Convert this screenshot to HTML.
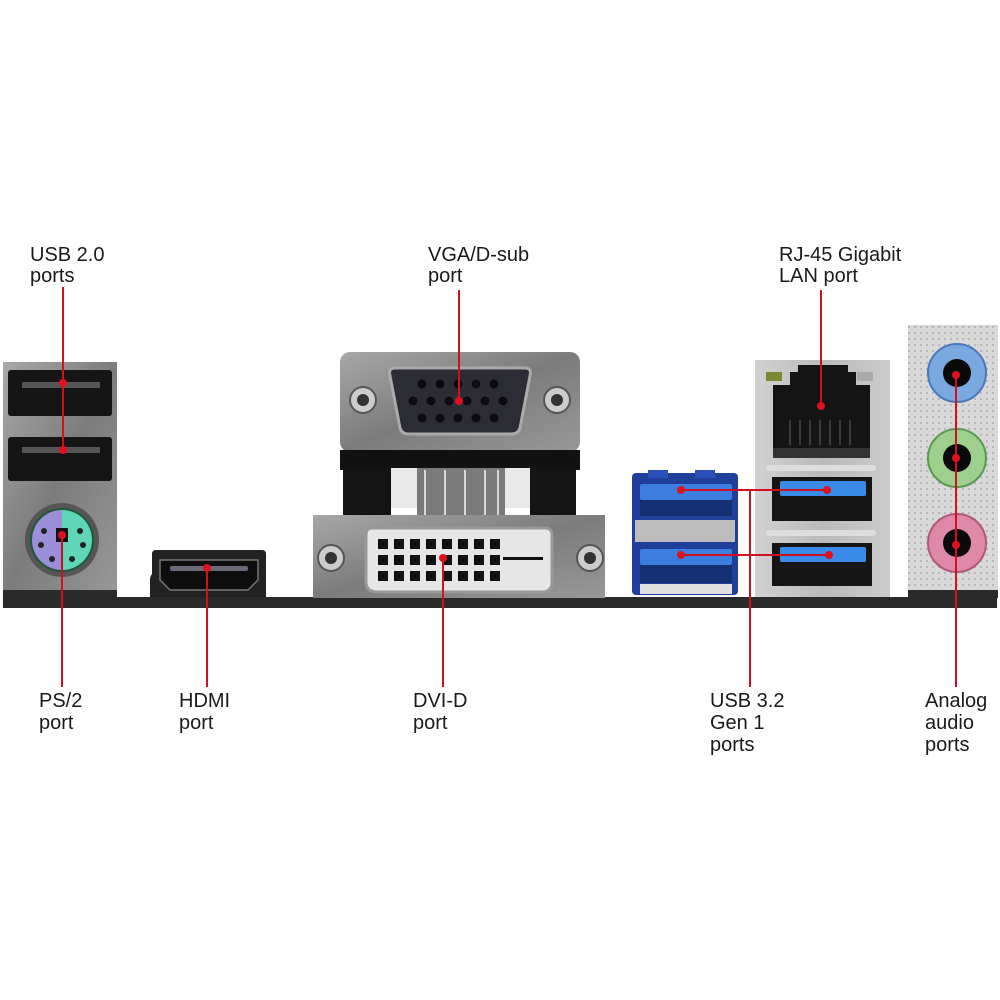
<!DOCTYPE html>
<html><head><meta charset="utf-8"><style>
html,body{margin:0;padding:0;background:#fff;}
svg{display:block;}
text{font-family:"Liberation Sans",Arial,sans-serif;font-size:20px;fill:#1a1a1a;}
</style></head><body>
<svg width="1000" height="1000" viewBox="0 0 1000 1000" xmlns="http://www.w3.org/2000/svg">
<defs>
<linearGradient id="met" x1="0" y1="0" x2="1" y2="1">
<stop offset="0" stop-color="#a8a8a8"/><stop offset="0.5" stop-color="#7c7c7c"/><stop offset="1" stop-color="#989898"/>
</linearGradient>
<linearGradient id="sil" x1="0" y1="0" x2="1" y2="0">
<stop offset="0" stop-color="#d2d2d2"/><stop offset="0.5" stop-color="#bababa"/><stop offset="1" stop-color="#cbcbcb"/>
</linearGradient>
<pattern id="dots" width="6" height="6" patternUnits="userSpaceOnUse">
<rect width="6" height="6" fill="#d8d8d8"/><circle cx="3" cy="3" r="1" fill="#acacac"/>
</pattern>
</defs>

<rect x="3" y="597" width="994" height="11" fill="#2a2a2a"/>

<rect x="3" y="362" width="114" height="236" fill="url(#met)"/>
<rect x="8" y="370" width="104" height="46" rx="3" fill="#151515"/>
<rect x="22" y="382" width="78" height="6" fill="#555"/>
<rect x="8" y="437" width="104" height="44" rx="3" fill="#151515"/>
<rect x="22" y="447" width="78" height="6" fill="#555"/>
<circle cx="62" cy="540" r="37" fill="#555"/>
<circle cx="62" cy="540" r="32" fill="#1e5a3a"/>
<path d="M62 510 A30 30 0 0 0 62 570 Z" fill="#9a8fd8"/>
<path d="M62 510 A30 30 0 0 1 62 570 Z" fill="#5fd6b8"/>
<rect x="56" y="528" width="12" height="14" fill="#111"/>
<circle cx="44" cy="531" r="3" fill="#222"/><circle cx="80" cy="531" r="3" fill="#222"/>
<circle cx="41" cy="545" r="3" fill="#222"/><circle cx="83" cy="545" r="3" fill="#222"/>
<circle cx="52" cy="559" r="3" fill="#222"/><circle cx="72" cy="559" r="3" fill="#222"/>
<rect x="3" y="590" width="114" height="8" fill="#2a2a2a"/>

<path d="M152 554 Q152 550 156 550 L262 550 Q266 550 266 554 L266 597 L150 597 L150 580 Q150 576 152 574 Z" fill="#222"/>
<path d="M160 560 L258 560 L258 580 L248 590 L170 590 L160 580 Z" fill="#0e0e0e" stroke="#777" stroke-width="1.5"/>
<rect x="170" y="566" width="78" height="5" rx="2" fill="#6a6a78"/>

<rect x="340" y="352" width="240" height="100" rx="10" fill="url(#met)"/>
<path d="M395 368 L525 368 Q532 368 530 376 L520 428 Q518 434 512 434 L408 434 Q402 434 400 428 L390 376 Q388 368 395 368 Z" fill="#2c2c34" stroke="#aaa" stroke-width="3"/>
<g fill="#0c0c10">
<circle cx="422" cy="384" r="4.5"/><circle cx="440" cy="384" r="4.5"/><circle cx="458" cy="384" r="4.5"/><circle cx="476" cy="384" r="4.5"/><circle cx="494" cy="384" r="4.5"/>
<circle cx="431" cy="401" r="4.5"/><circle cx="449" cy="401" r="4.5"/><circle cx="467" cy="401" r="4.5"/><circle cx="485" cy="401" r="4.5"/><circle cx="503" cy="401" r="4.5"/><circle cx="413" cy="401" r="4.5"/>
<circle cx="422" cy="418" r="4.5"/><circle cx="440" cy="418" r="4.5"/><circle cx="458" cy="418" r="4.5"/><circle cx="476" cy="418" r="4.5"/><circle cx="494" cy="418" r="4.5"/>
</g>
<circle cx="363" cy="400" r="13" fill="#ccc" stroke="#555" stroke-width="2"/><circle cx="363" cy="400" r="6" fill="#333"/>
<circle cx="557" cy="400" r="13" fill="#ccc" stroke="#555" stroke-width="2"/><circle cx="557" cy="400" r="6" fill="#333"/>
<rect x="340" y="450" width="240" height="20" fill="#111"/>
<rect x="343" y="468" width="48" height="50" fill="#141414"/>
<rect x="530" y="468" width="46" height="50" fill="#141414"/>
<rect x="391" y="468" width="27" height="40" fill="#e8e8e8"/>
<rect x="505" y="468" width="25" height="40" fill="#e8e8e8"/>
<rect x="417" y="468" width="88" height="50" fill="#7a7a7a"/>
<g stroke="#d8d8d8" stroke-width="2"><line x1="425" y1="470" x2="425" y2="515"/><line x1="445" y1="470" x2="445" y2="515"/><line x1="465" y1="470" x2="465" y2="515"/><line x1="485" y1="470" x2="485" y2="515"/><line x1="498" y1="470" x2="498" y2="515"/></g>

<rect x="313" y="515" width="292" height="83" fill="url(#met)"/>
<path d="M372 528 L545 528 Q552 528 552 535 L552 582 Q552 592 542 592 L378 592 Q366 592 366 582 L366 535 Q366 528 372 528 Z" fill="#e6e6e6" stroke="#999" stroke-width="3"/>
<g fill="#111">
<rect x="378" y="539" width="10" height="10"/><rect x="394" y="539" width="10" height="10"/><rect x="410" y="539" width="10" height="10"/><rect x="426" y="539" width="10" height="10"/><rect x="442" y="539" width="10" height="10"/><rect x="458" y="539" width="10" height="10"/><rect x="474" y="539" width="10" height="10"/><rect x="490" y="539" width="10" height="10"/>
<rect x="378" y="555" width="10" height="10"/><rect x="394" y="555" width="10" height="10"/><rect x="410" y="555" width="10" height="10"/><rect x="426" y="555" width="10" height="10"/><rect x="442" y="555" width="10" height="10"/><rect x="458" y="555" width="10" height="10"/><rect x="474" y="555" width="10" height="10"/><rect x="490" y="555" width="10" height="10"/>
<rect x="378" y="571" width="10" height="10"/><rect x="394" y="571" width="10" height="10"/><rect x="410" y="571" width="10" height="10"/><rect x="426" y="571" width="10" height="10"/><rect x="442" y="571" width="10" height="10"/><rect x="458" y="571" width="10" height="10"/><rect x="474" y="571" width="10" height="10"/><rect x="490" y="571" width="10" height="10"/>
<rect x="503" y="557" width="40" height="3"/>
</g>
<circle cx="331" cy="558" r="13" fill="#ccc" stroke="#555" stroke-width="2"/><circle cx="331" cy="558" r="6" fill="#333"/>
<circle cx="590" cy="558" r="13" fill="#ccc" stroke="#555" stroke-width="2"/><circle cx="590" cy="558" r="6" fill="#333"/>

<rect x="632" y="473" width="106" height="122" rx="4" fill="#1f3f9a"/>
<rect x="648" y="470" width="20" height="8" fill="#2a50b8"/><rect x="695" y="470" width="20" height="8" fill="#2a50b8"/>
<rect x="640" y="484" width="92" height="16" rx="2" fill="#3a7ee0"/>
<rect x="640" y="500" width="92" height="16" fill="#153070"/>
<rect x="635" y="520" width="100" height="22" fill="#bdbdbd"/>
<rect x="640" y="549" width="92" height="16" rx="2" fill="#3a7ee0"/>
<rect x="640" y="565" width="92" height="18" fill="#153070"/>
<rect x="640" y="584" width="92" height="10" fill="#e0e0e0"/>

<rect x="755" y="360" width="135" height="237" fill="url(#sil)"/>
<path d="M798 365 L848 365 L848 372 L856 372 L856 385 L870 385 L870 458 L773 458 L773 385 L790 385 L790 372 L798 372 Z" fill="#141414"/>
<rect x="773" y="448" width="97" height="10" fill="#333"/>
<g stroke="#3a3a3a" stroke-width="2"><line x1="790" y1="420" x2="790" y2="445"/><line x1="800" y1="420" x2="800" y2="445"/><line x1="810" y1="420" x2="810" y2="445"/><line x1="820" y1="420" x2="820" y2="445"/><line x1="830" y1="420" x2="830" y2="445"/><line x1="840" y1="420" x2="840" y2="445"/><line x1="850" y1="420" x2="850" y2="445"/></g>
<rect x="766" y="372" width="16" height="9" fill="#7a8a30"/>
<rect x="857" y="372" width="16" height="9" fill="#aaa"/>
<rect x="766" y="465" width="110" height="6" rx="3" fill="#ddd"/>
<rect x="772" y="477" width="100" height="44" fill="#151515"/>
<rect x="780" y="481" width="86" height="15" rx="2" fill="#3a8ae8"/>
<rect x="766" y="530" width="110" height="6" rx="3" fill="#ddd"/>
<rect x="772" y="543" width="100" height="43" fill="#151515"/>
<rect x="780" y="547" width="86" height="15" rx="2" fill="#3a8ae8"/>

<rect x="908" y="325" width="90" height="272" fill="url(#dots)"/>
<circle cx="957" cy="373" r="29" fill="#7aa8e0" stroke="#4a78b8" stroke-width="2"/><circle cx="957" cy="373" r="14" fill="#0a0a0a"/>
<circle cx="957" cy="458" r="29" fill="#9cd08c" stroke="#5a9a50" stroke-width="2"/><circle cx="957" cy="458" r="14" fill="#0a0a0a"/>
<circle cx="957" cy="543" r="29" fill="#e088a8" stroke="#b05878" stroke-width="2"/><circle cx="957" cy="543" r="14" fill="#0a0a0a"/>
<rect x="908" y="590" width="90" height="8" fill="#2a2a2a"/>

<g stroke="#d0101e" stroke-width="2" fill="none">
<line x1="63" y1="287" x2="63" y2="450"/>
<line x1="62" y1="535" x2="62" y2="687"/>
<line x1="207" y1="568" x2="207" y2="687"/>
<line x1="459" y1="290" x2="459" y2="401"/>
<line x1="443" y1="558" x2="443" y2="687"/>
<line x1="821" y1="290" x2="821" y2="406"/>
<line x1="681" y1="490" x2="827" y2="490"/>
<line x1="681" y1="555" x2="829" y2="555"/>
<line x1="750" y1="490" x2="750" y2="687"/>
<line x1="956" y1="375" x2="956" y2="687"/>
</g>
<g fill="#e0101e">
<circle cx="63" cy="383" r="4"/><circle cx="63" cy="450" r="4"/><circle cx="62" cy="535" r="4"/>
<circle cx="207" cy="568" r="4"/><circle cx="459" cy="401" r="4"/><circle cx="443" cy="558" r="4"/>
<circle cx="821" cy="406" r="4"/><circle cx="681" cy="490" r="4"/><circle cx="827" cy="490" r="4"/>
<circle cx="681" cy="555" r="4"/><circle cx="829" cy="555" r="4"/>
<circle cx="956" cy="375" r="4"/><circle cx="956" cy="458" r="4"/><circle cx="956" cy="545" r="4"/>
</g>

<text x="30" y="261">USB 2.0</text><text x="30" y="282">ports</text>
<text x="428" y="261">VGA/D-sub</text><text x="428" y="282">port</text>
<text x="779" y="261">RJ-45 Gigabit</text><text x="779" y="282">LAN port</text>
<text x="39" y="707">PS/2</text><text x="39" y="729">port</text>
<text x="179" y="707">HDMI</text><text x="179" y="729">port</text>
<text x="413" y="707">DVI-D</text><text x="413" y="729">port</text>
<text x="710" y="707">USB 3.2</text><text x="710" y="729">Gen 1</text><text x="710" y="751">ports</text>
<text x="925" y="707">Analog</text><text x="925" y="729">audio</text><text x="925" y="751">ports</text>
</svg>
</body></html>
